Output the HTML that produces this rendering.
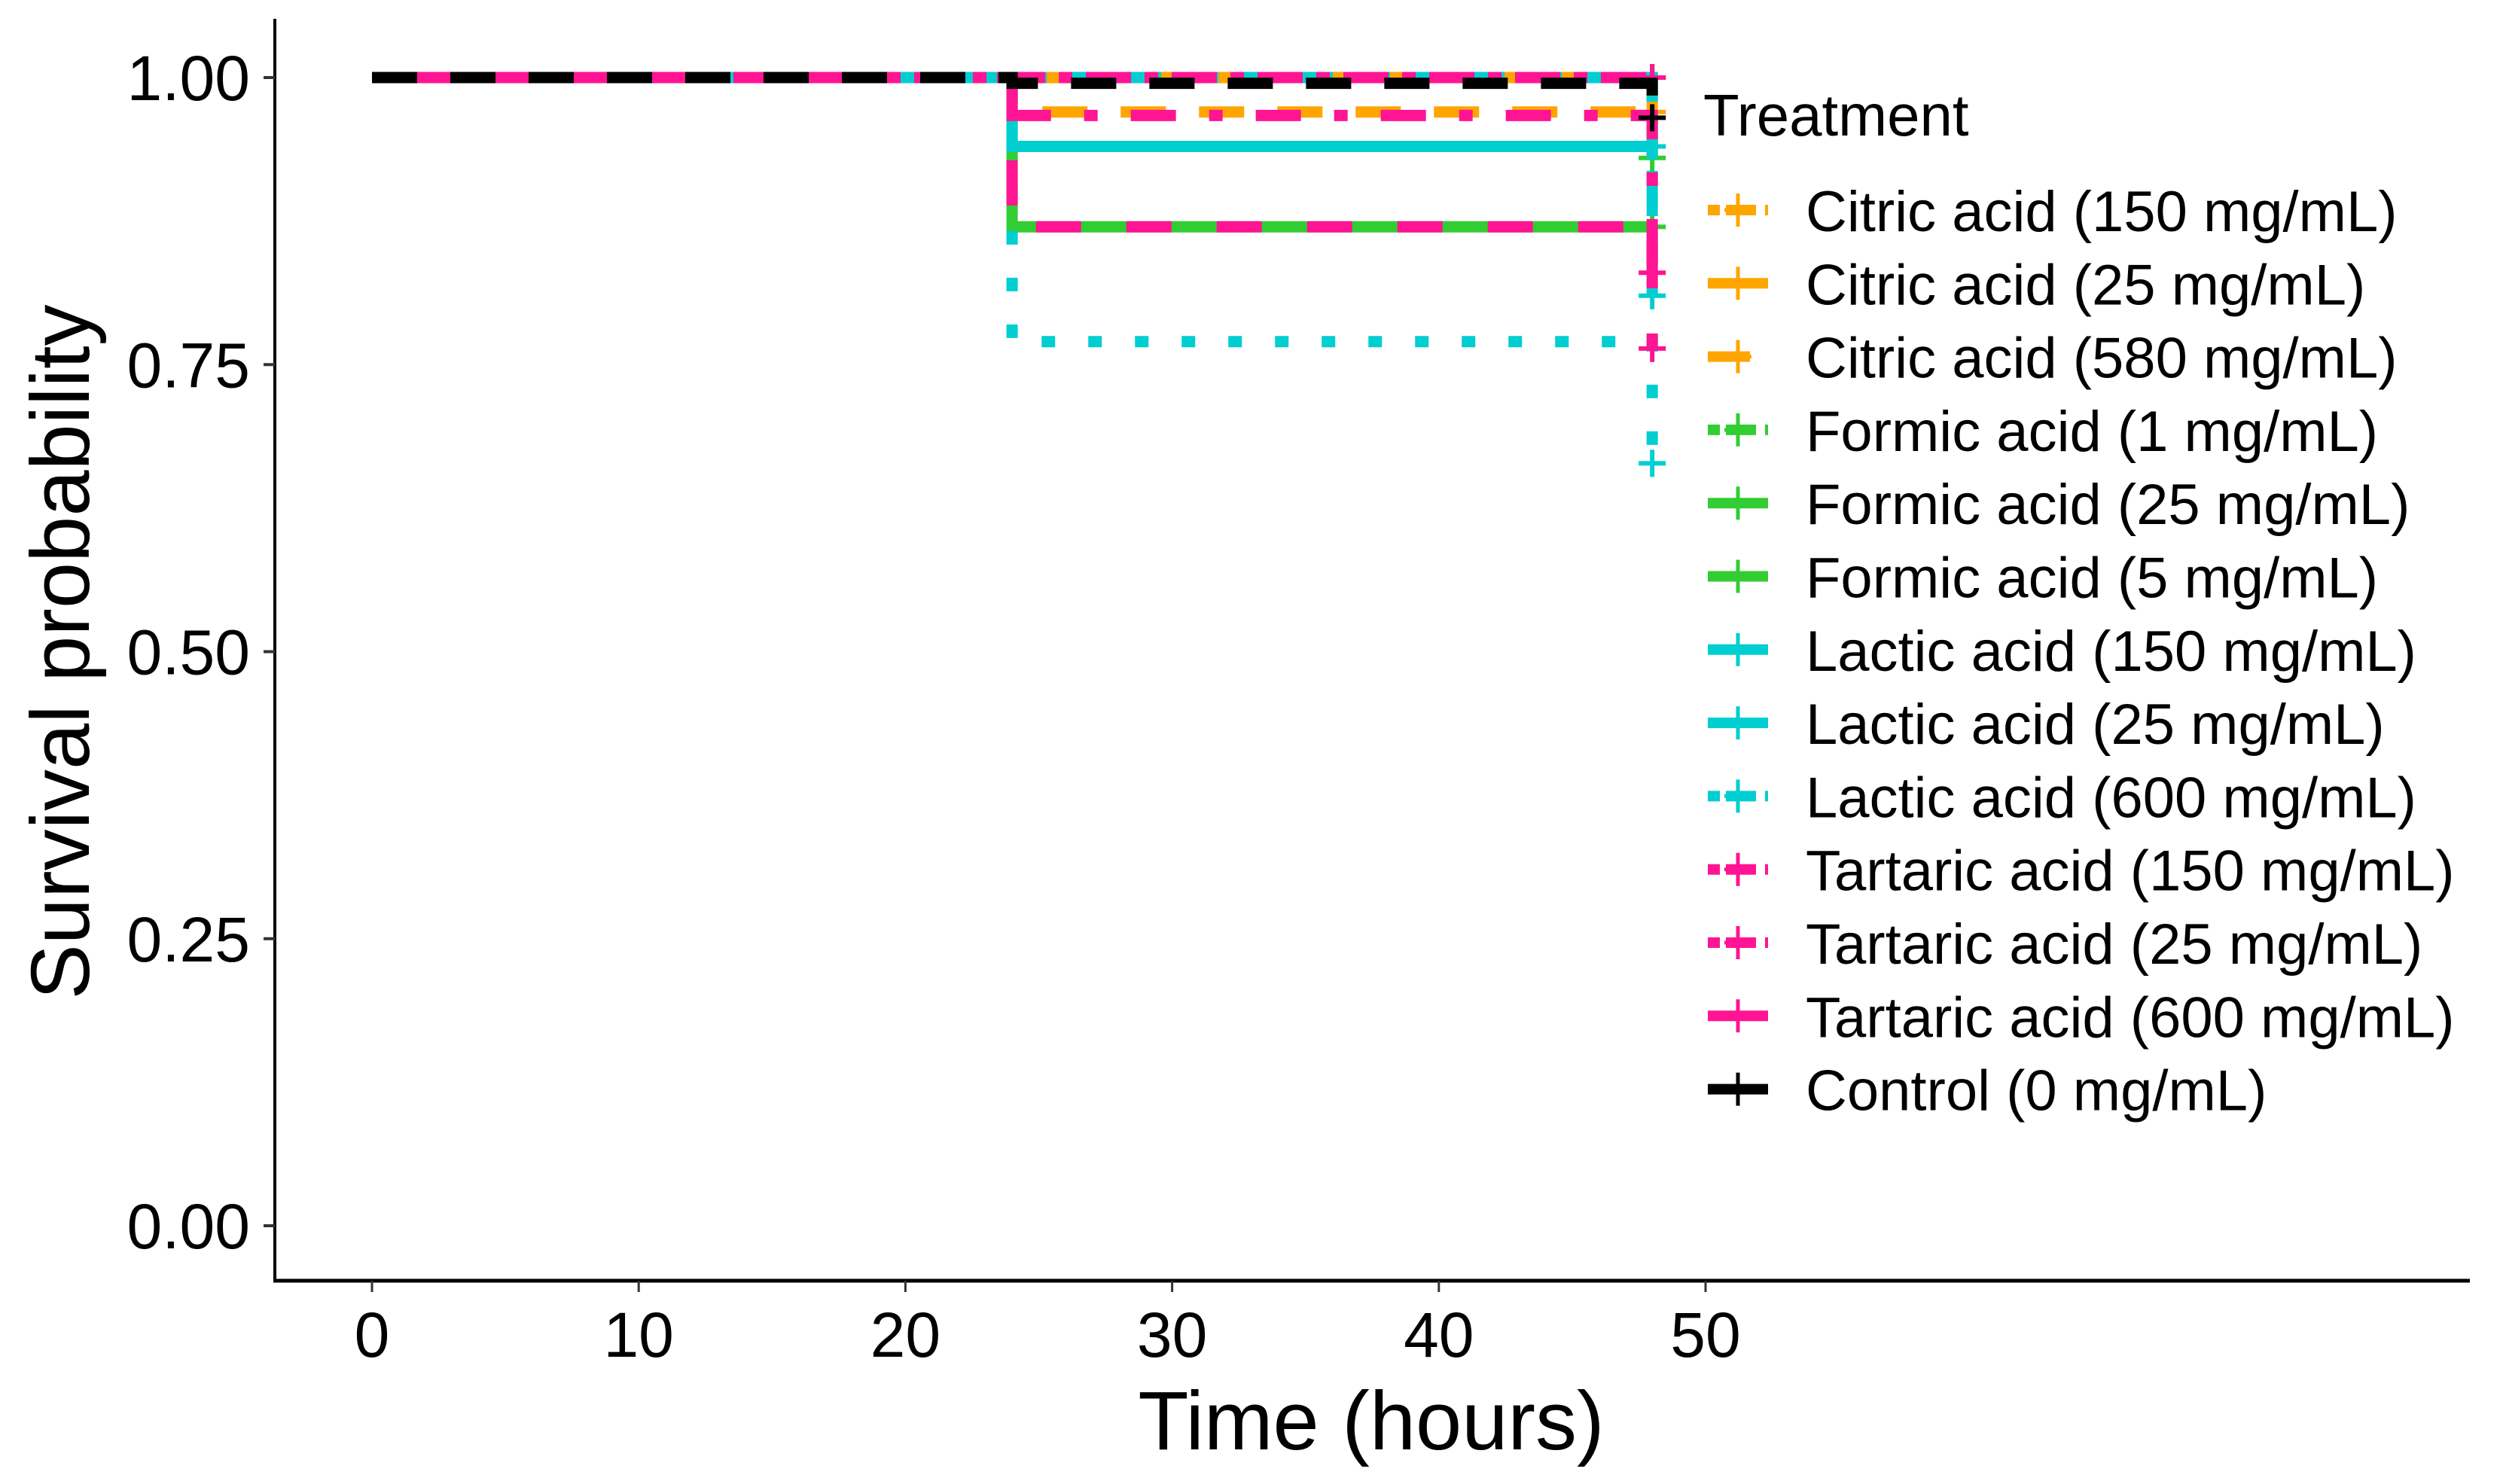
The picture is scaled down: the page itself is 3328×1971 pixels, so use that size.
<!DOCTYPE html>
<html><head><meta charset="utf-8"><style>
html,body{margin:0;padding:0;background:#fff;}
svg{display:block;font-family:"Liberation Sans",Arial,sans-serif;}
</style></head><body>
<svg id="chart" width="3328" height="1971" viewBox="0 0 3328 1971"></svg>
<script>
const xTicks=[0,10,20,30,40,50];
const yTicks=[0,0.25,0.5,0.75,1.0];
const yTickLabels=["0.00","0.25","0.50","0.75","1.00"];
const seriesNames=["Citric acid (150 mg/mL)","Citric acid (25 mg/mL)","Citric acid (580 mg/mL)","Formic acid (1 mg/mL)","Formic acid (25 mg/mL)","Formic acid (5 mg/mL)","Lactic acid (150 mg/mL)","Lactic acid (25 mg/mL)","Lactic acid (600 mg/mL)","Tartaric acid (150 mg/mL)","Tartaric acid (25 mg/mL)","Tartaric acid (600 mg/mL)","Control (0 mg/mL)"];
const seriesColors=["#FFA500","#FFA500","#FFA500","#32CD32","#32CD32","#32CD32","#00CED1","#00CED1","#00CED1","#FF1493","#FF1493","#FF1493","#000000"];
const seriesDash=["18,18,60,18","none","60,44","18,18,60,18","none","60,16","none","60,16","18,44","18,18,60,18","18,44,60,44","60,60","60,44"];
const keyDash=["16,8,40,12","none","56,24","16,8,40,12","none","none","none","none","16,8,40,12","16,8,40,12","16,8,40,12","none","none"];
const times=[0,24,48];
const survStep=[
 [1.00,1.00,1.00],
 [1.00,1.00,0.94],
 [1.00,0.97,0.97],
 [1.00,1.00,1.00],
 [1.00,0.87,0.87],
 [1.00,1.00,0.93],
 [1.00,0.94,0.94],
 [1.00,1.00,0.81],
 [1.00,0.77,0.664],
 [1.00,1.00,1.00],
 [1.00,0.967,0.83],
 [1.00,0.87,0.764],
 [1.00,0.995,0.965]
];
const NS="http://www.w3.org/2000/svg";
const svg=document.getElementById('chart');
const X=t=>494+t*35.42;
const Y=v=>1628-v*1525;
function mk(tag,attrs,parent){const e=document.createElementNS(NS,tag);for(const k in attrs)e.setAttribute(k,attrs[k]);(parent||svg).appendChild(e);return e;}
const ax=mk('line',{x1:365,y1:25,x2:365,y2:1702,stroke:'#000','stroke-width':4});

const bx=mk('line',{x1:363,y1:1701,x2:3280,y2:1701,stroke:'#000','stroke-width':5});

xTicks.forEach(t=>{
 const l=mk('line',{x1:X(t),y1:1701,x2:X(t),y2:1716,stroke:'#333','stroke-width':3});
 
 const tx=mk('text',{x:X(t),y:1802,'font-size':84,'text-anchor':'middle',fill:'#000'});tx.textContent=t;
 
});
yTicks.forEach((v,i)=>{
 const l=mk('line',{x1:350,y1:Y(v),x2:365,y2:Y(v),stroke:'#333','stroke-width':4});
 
 const tx=mk('text',{x:332,y:Y(v)+30,'font-size':84,'text-anchor':'end',fill:'#000'});tx.textContent=yTickLabels[i];
 
});
const xt=mk('text',{x:1821,y:1925,'font-size':110,'text-anchor':'middle',fill:'#000'});xt.textContent='Time (hours)';

const yt=mk('text',{x:0,y:0,'font-size':110,'text-anchor':'middle',fill:'#000',transform:'translate(118,866) rotate(-90)'});yt.textContent='Survival probability';

survStep.forEach((s,i)=>{
 let d='M'+X(times[0])+','+Y(s[0]);
 for(let k=1;k<times.length;k++){d+=' H'+X(times[k])+' V'+Y(s[k]);}
 const p=mk('path',{d:d,fill:'none',stroke:seriesColors[i],'stroke-width':15,'stroke-dasharray':seriesDash[i]});
 
 const cx=X(times[times.length-1]),cy=Y(s[s.length-1]);
 const c=mk('path',{d:`M${cx-18},${cy} H${cx+18} M${cx},${cy-18} V${cy+18}`,stroke:seriesColors[i],'stroke-width':6});
 
});
const lt=mk('text',{x:2262,y:180,'font-size':78,fill:'#000'});lt.textContent='Treatment';

seriesNames.forEach((n,i)=>{
 const cy=279+i*97.3;
 const g=mk('g',{});
 
 mk('line',{x1:2268,y1:cy,x2:2348,y2:cy,stroke:seriesColors[i],'stroke-width':14,'stroke-dasharray':keyDash[i]},g);
 mk('path',{d:`M2290,${cy} H2326 M2308,${cy-22} V${cy+22}`,stroke:seriesColors[i],'stroke-width':5},g);
 const t=mk('text',{x:2398,y:cy+28,'font-size':76,fill:'#000'},g);t.textContent=n;
});
</script>
</body></html>
